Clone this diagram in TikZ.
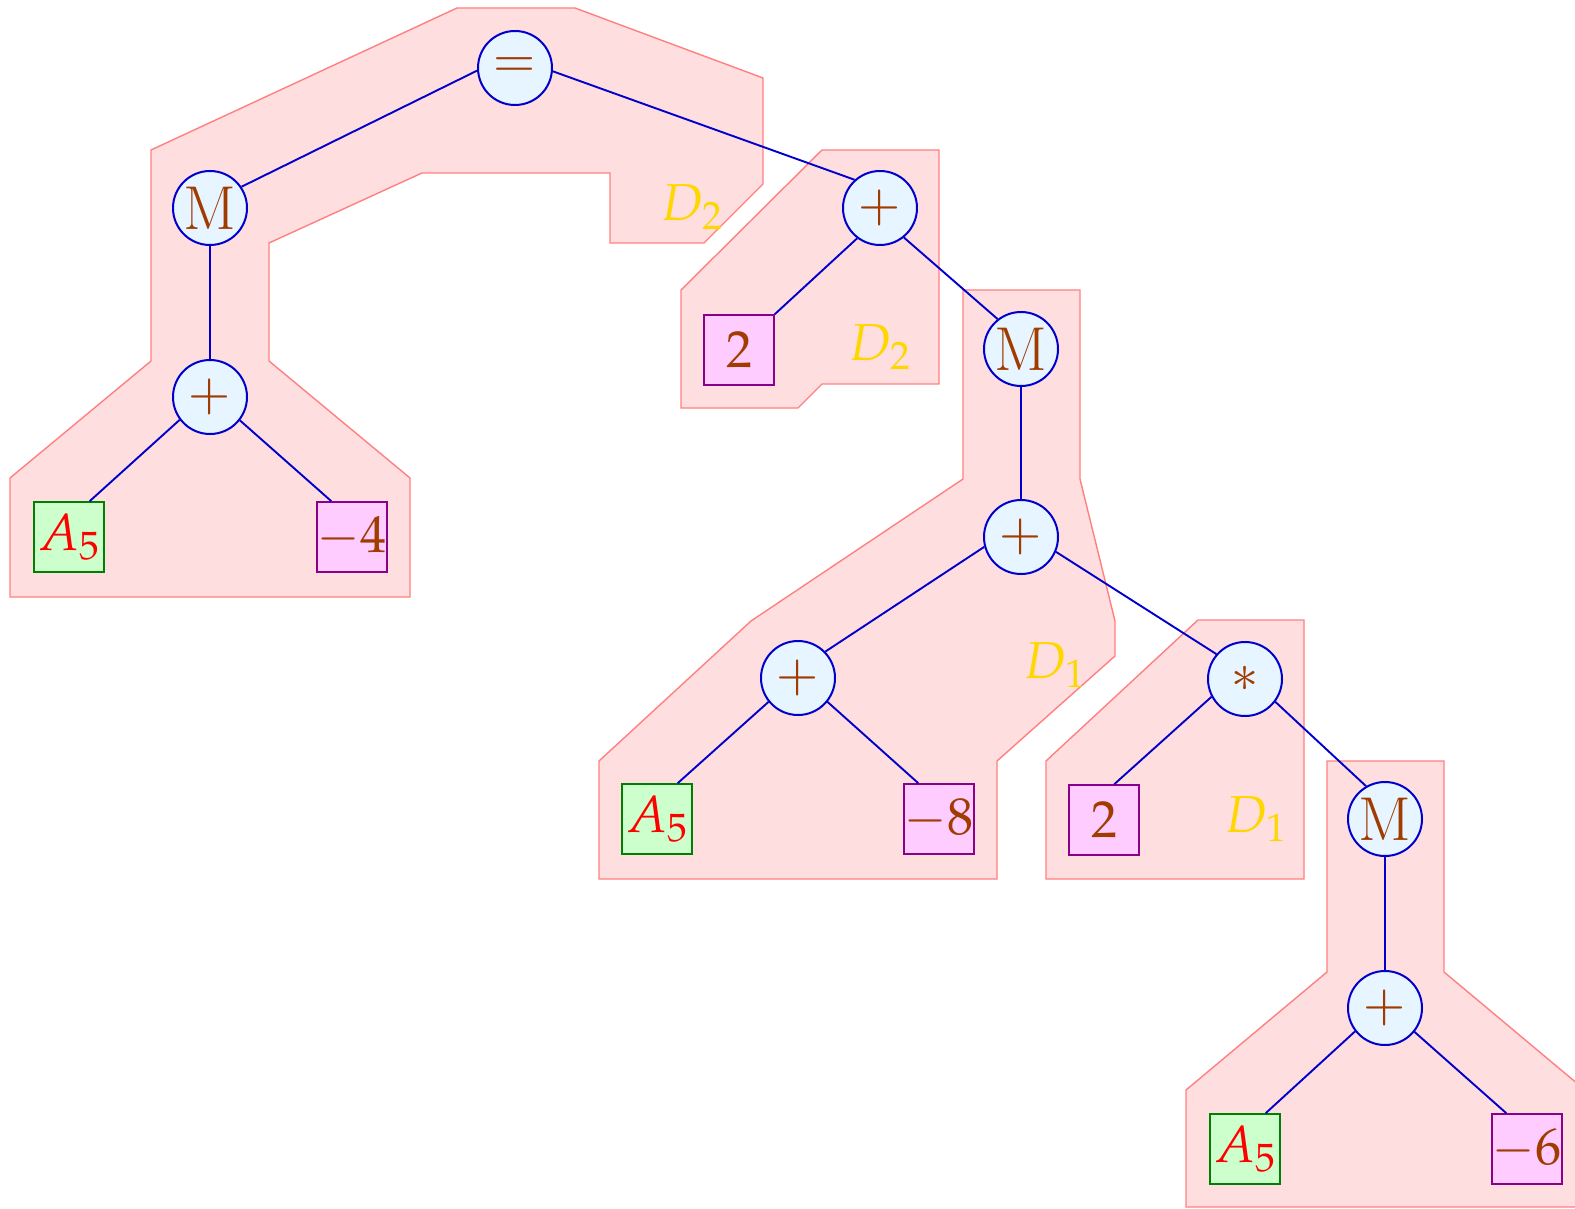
\documentclass[tikz,border=0pt]{standalone}
\usepackage{mathpazo}
\definecolor{zone}{HTML}{FFDEE0}
\definecolor{zoneline}{HTML}{FF8080}
\definecolor{opfill}{HTML}{E6F5FF}
\definecolor{opline}{HTML}{0000CC}
\definecolor{optext}{HTML}{A03C00}
\definecolor{varfill}{HTML}{CCFFCC}
\definecolor{varline}{HTML}{008000}
\definecolor{numfill}{HTML}{FFCCFF}
\definecolor{numline}{HTML}{8B008B}
\definecolor{dlab}{HTML}{FFD700}
\newcommand{\memop}{{\fontsize{31}{36}\selectfont M}}
\tikzset{
  op/.style={circle,draw=opline,fill=opfill,line width=1pt,minimum size=37pt,inner sep=0pt,text=optext},
  var/.style={rectangle,draw=varline,fill=varfill,line width=0.8pt,minimum size=35pt,inner sep=0pt,text=red},
  num/.style={rectangle,draw=numline,fill=numfill,line width=0.8pt,minimum size=35pt,inner sep=0pt,text=optext},
  link/.style={draw=opline,line width=0.95pt},
  zonebox/.style={fill=zone,draw=zoneline,line width=0.7pt},
  dlbl/.style={text=dlab}}
\begin{document}
\begin{tikzpicture}[x=0.5pt,y=-0.5pt,font=\fontsize{26}{31}\selectfont]
\useasboundingbox (0,0) rectangle (1575,1209);
% zones
\draw[zonebox] (457,8) -- (575,8) -- (763,78) -- (763,184) -- (704,243) -- (610,243) -- (610,173) -- (422,173) -- (269,243) -- (269,361) -- (410,478) -- (410,597) -- (10,597) -- (10,478) -- (151,361) -- (151,150) -- cycle;
\draw[zonebox] (822,150) -- (939,150) -- (939,384) -- (822,384) -- (798,408) -- (681,408) -- (681,290) -- cycle;
\draw[zonebox] (963,290) -- (1080,290) -- (1080,479) -- (1115,621) -- (1115,656) -- (997,761) -- (997,879) -- (599,879) -- (599,761) -- (751,621) -- (963,479) -- cycle;
\draw[zonebox] (1198,620) -- (1304,620) -- (1304,879) -- (1046,879) -- (1046,761) -- cycle;
\draw[zonebox] (1327,761) -- (1444,761) -- (1444,972) -- (1585,1090) -- (1585,1207) -- (1186,1207) -- (1186,1090) -- (1327,972) -- cycle;
\node[dlbl] (d2a) at (692,207) {$D_2$};
\node[dlbl] (d2b) at (880,347) {$D_2$};
\node[dlbl] (d1a) at (1055,665) {$D_1$};
\node[dlbl] (d1b) at (1256,819) {$D_1$};
% tree
\node[op] (eq) at (515,68) {$=$};
\node[op] (m1) at (210,208) {\memop};
\node[op] (p1) at (210,397) {$+$};
\node[var] (a1) at (69,537) {$A_5$};
\node[num] (n4) at (352,537) {$-4$};
\node[op] (p2) at (880,208) {$+$};
\node[num] (n2a) at (739,350) {$2$};
\node[op] (m2) at (1021,349) {\memop};
\node[op] (p3) at (1021,537) {$+$};
\node[op] (p4) at (798,678) {$+$};
\node[var] (a2) at (657,819) {$A_5$};
\node[num] (n8) at (939,819) {$-8$};
\node[op] (st) at (1245,679) {$*$};
\node[num] (n2b) at (1104,820) {$2$};
\node[op] (m3) at (1385,819) {\memop};
\node[op] (p5) at (1385,1008) {$+$};
\node[var] (a3) at (1245,1149) {$A_5$};
\node[num] (n6) at (1527,1149) {$-6$};
\draw[link] (m1.34) -- (eq.184);
\draw[link] (eq.355) -- (p2.132);
\draw[link] (m1.south) -- (p1.north);
\draw[link] (p1.217) -- (a1.60);
\draw[link] (p1.322) -- (n4.120);
\draw[link] (p2.233) -- (n2a.north east);
\draw[link] (p2.309) -- (m2.128);
\draw[link] (m2.south) -- (p3.north);
\draw[link] (p3.195) -- (p4.44);
\draw[link] (p3.337) -- (st.139);
\draw[link] (p4.219) -- (a2.60);
\draw[link] (p4.321) -- (n8.120);
\draw[link] (st.208) -- (n2b.74);
\draw[link] (st.323) -- (m3.120);
\draw[link] (m3.south) -- (p5.north);
\draw[link] (p5.218) -- (a3.60);
\draw[link] (p5.321) -- (n6.120);
\end{tikzpicture}
\end{document}
